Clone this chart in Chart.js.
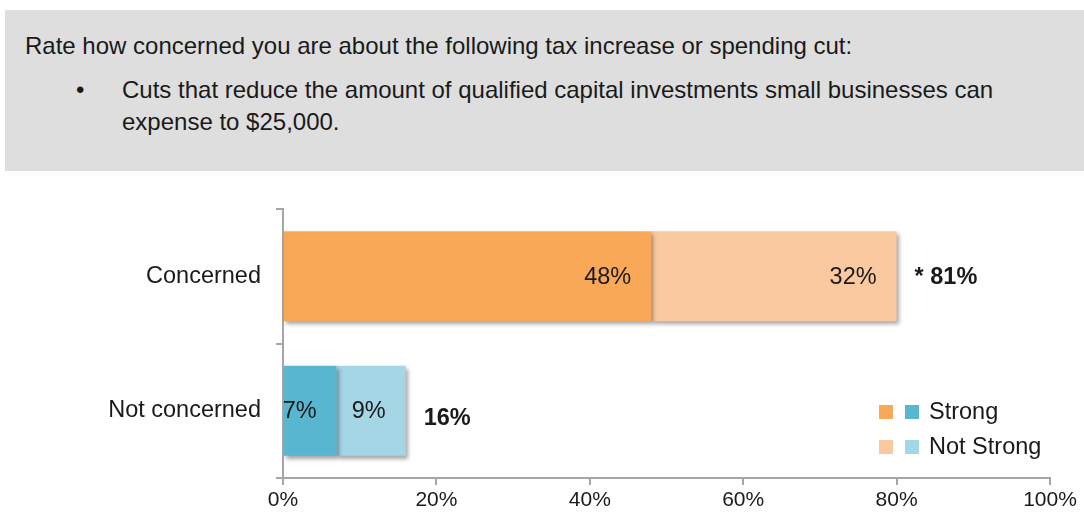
<!DOCTYPE html>
<html>
<head>
<meta charset="utf-8">
<script src="https://cdn.jsdelivr.net/npm/chart.js@4.4.1/dist/chart.umd.min.js"></script>
<style>
  body { margin: 0; width: 1084px; height: 521px; background: #fff; position: relative; overflow: hidden;
         font-family: "Liberation Sans", Arial, sans-serif; color: #1a1a1a; }
  .question { position: absolute; left: 5px; top: 10px; width: 1079px; height: 161px; background: #dedede; }
  .question p { position: absolute; margin: 0; font-size: 24px; line-height: 32px; }
  .chart-wrap { position: absolute; left: 0; top: 180px; width: 1084px; height: 341px; }
</style>
</head>
<body>
<div class="question">
  <p style="left:20px; top:20px;">Rate how concerned you are about the following tax increase or spending cut:</p>
  <p style="left:71px; top:64px;">•</p>
  <p style="left:117px; top:64px; width:940px;">Cuts that reduce the amount of qualified capital investments small businesses can<br>expense to $25,000.</p>
</div>
<div class="chart-wrap"><canvas id="concern-chart"></canvas></div>
<script>
// Survey answers, percent of respondents
const categories = ['Concerned', 'Not concerned'];
const strongValues = [48, 7];
const notStrongValues = [32, 9];
const totalLabels = ['* 81%', '16%'];
const xTicks = [0, 20, 40, 60, 80, 100];

const strongColors = ['#f8a857', '#59b6d0'];
const notStrongColors = ['#fbc9a0', '#a5d6e5'];
const seriesNames = ['Strong', 'Not Strong'];

const FONT = '"Liberation Sans", Arial, sans-serif';
const AXIS_GREY = '#a6a6a6';

// drop shadow under the bars, then the value and total labels on top
const barDecor = {
  id: 'barDecor',
  beforeDatasetsDraw(chart) {
    const ctx = chart.ctx;
    ctx.save();
    ctx.shadowColor = 'rgba(0,0,0,0.35)';
    ctx.shadowBlur = 4;
    ctx.shadowOffsetX = 2;
    ctx.shadowOffsetY = 3;
  },
  afterDatasetsDraw(chart) {
    const ctx = chart.ctx;
    ctx.restore();
    ctx.save();
    ctx.fillStyle = '#1a1a1a';
    ctx.textBaseline = 'middle';
    ctx.font = '23.5px ' + FONT;
    ctx.textAlign = 'right';
    chart.data.datasets.forEach((ds, di) => {
      chart.getDatasetMeta(di).data.forEach((bar, i) => {
        ctx.fillText(ds.data[i] + '%', bar.x - 20, bar.y + 1);
      });
    });
    const last = chart.getDatasetMeta(chart.data.datasets.length - 1).data;
    ctx.font = 'bold 23.5px ' + FONT;
    ctx.textAlign = 'left';
    last.forEach((bar, i) => {
      ctx.fillText(totalLabels[i], bar.x + 18, bar.y + (i === 1 ? 8 : 1));
    });
    ctx.restore();
  }
};

// two-swatch legend: orange and blue square for each series
const pairLegend = {
  id: 'pairLegend',
  afterDraw(chart) {
    const ctx = chart.ctx;
    const area = chart.chartArea;
    ctx.save();
    ctx.font = '23.5px ' + FONT;
    ctx.textBaseline = 'middle';
    const sets = [strongColors, notStrongColors];
    seriesNames.forEach((name, k) => {
      const y = area.bottom - 66 + k * 35;
      const x = 879;
      ctx.fillStyle = sets[k][0];
      ctx.fillRect(x, y - 7, 14, 14);
      ctx.fillStyle = sets[k][1];
      ctx.fillRect(x + 26, y - 7, 14, 14);
      ctx.fillStyle = '#1a1a1a';
      ctx.textAlign = 'left';
      ctx.fillText(name, x + 50, y + 1);
    });
    ctx.restore();
  }
};

new Chart(document.getElementById('concern-chart'), {
  type: 'bar',
  data: {
    labels: categories,
    datasets: [
      { label: seriesNames[0], data: strongValues, backgroundColor: strongColors },
      { label: seriesNames[1], data: notStrongValues, backgroundColor: notStrongColors }
    ]
  },
  options: {
    indexAxis: 'y',
    responsive: true,
    maintainAspectRatio: false,
    animation: false,
    events: [],
    layout: { padding: { top: 26, right: 34, left: 0, bottom: 0 } },
    datasets: { bar: { categoryPercentage: 1, barPercentage: 0.67, borderWidth: 0 } },
    scales: {
      x: {
        stacked: true,
        min: 0,
        max: 100,
        afterBuildTicks(scale) { scale.ticks = xTicks.map(v => ({ value: v })); },
        afterFit(scale) { scale.height = 43; },
        grid: { drawOnChartArea: false, drawTicks: true, tickLength: 7, color: AXIS_GREY, lineWidth: 2 },
        border: { color: AXIS_GREY, width: 2 },
        ticks: { padding: 3, color: '#1a1a1a', font: { family: FONT, size: 21 }, callback: v => v + '%' }
      },
      y: {
        stacked: true,
        afterFit(scale) { scale.width = 283; },
        grid: { offset: true, drawOnChartArea: false, drawTicks: true, tickLength: 7, color: AXIS_GREY, lineWidth: 2 },
        border: { color: AXIS_GREY, width: 2 },
        ticks: { padding: 15, color: '#1a1a1a', font: { family: FONT, size: 23.5 } }
      }
    },
    plugins: { legend: { display: false }, tooltip: { enabled: false } }
  },
  plugins: [barDecor, pairLegend]
});
</script>
</body>
</html>
